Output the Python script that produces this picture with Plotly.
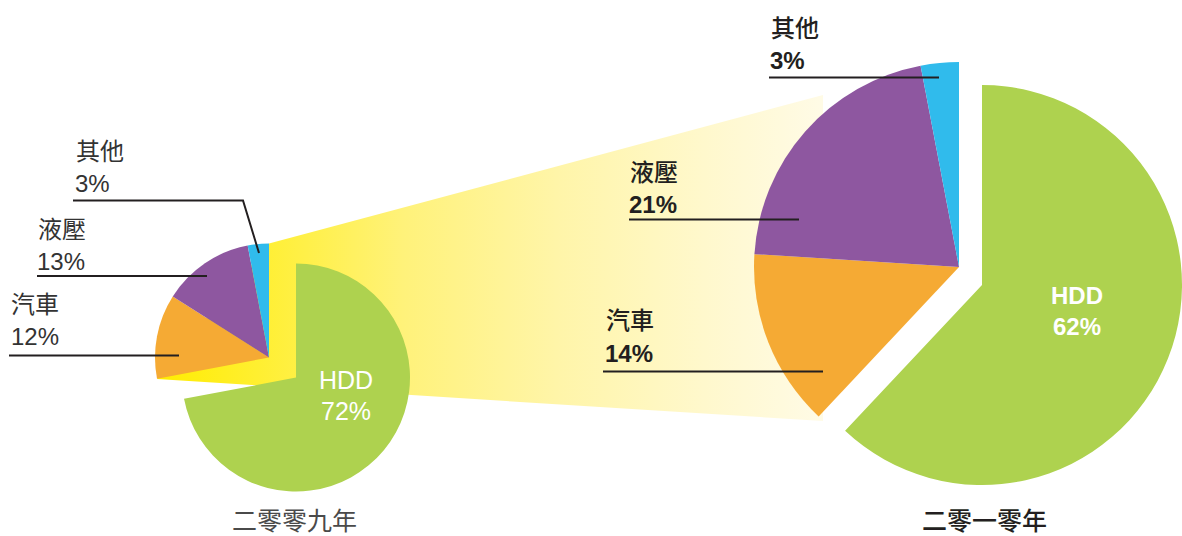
import plotly.graph_objects as go

W, H = 1182, 536

# ---- data ----
categories = ["HDD", "汽車", "液壓", "其他"]
share_2009 = [72, 12, 13, 3]
share_2010 = [62, 14, 21, 3]
year_labels = ["二零零九年", "二零一零年"]
colors = ["#AED24F", "#F5AA34", "#8E57A0", "#30BBEC"]

# ---- geometry (pixels) ----
L = dict(cx=269, cy=357.5, r=114)          # 2009 pie
R = dict(cx=959, cy=267, r=205)            # 2010 pie
L_HDD = dict(cx=296, cy=377.5, r=114)      # exploded HDD slice 2009
R_HDD = dict(cx=982, cy=285, r=200)        # exploded HDD slice 2010

FONT = "Liberation Sans, Noto Sans CJK TC, sans-serif"
DARK = "#231F20"

fig = go.Figure()

# funnel connecting the two pies (decoration)
fx = [L["cx"], 823, 823, 157]
fy = [L["cy"] - L["r"], 95, 421, 379]
fig.add_trace(go.Scatter(
    x=fx + [fx[0]], y=fy + [fy[0]], mode="lines", line=dict(width=0),
    fill="toself", hoverinfo="skip", showlegend=False,
    fillgradient=dict(type="horizontal", colorscale=[
        [0.0, "#FFEC00"], [0.15, "#FFEF30"], [0.37, "#FFF27A"],
        [0.6, "#FFF5A8"], [0.82, "#FFF8CC"], [1.0, "#FFFBE6"]]),
))


def add_pie(values, g, hdd_only):
    cols = []
    for i, c in enumerate(colors):
        show = (i == 0) if hdd_only else (i != 0)
        cols.append(c if show else "rgba(0,0,0,0)")
    x0 = max(0.0, (g["cx"] - g["r"]) / W)
    x1 = min(1.0, (g["cx"] + g["r"]) / W)
    y0 = max(0.0, (H - g["cy"] - g["r"]) / H)
    y1 = min(1.0, (H - g["cy"] + g["r"]) / H)
    fig.add_trace(go.Pie(
        labels=categories, values=values, sort=False, direction="clockwise",
        rotation=0, marker=dict(colors=cols, line=dict(width=0)),
        textinfo="none", hoverinfo="skip", showlegend=False,
        domain=dict(x=[x0, x1], y=[y0, y1]),
    ))


add_pie(share_2009, L, False)
add_pie(share_2009, L_HDD, True)
add_pie(share_2010, R, False)
add_pie(share_2010, R_HDD, True)

annotations = []


def txt(x, y, s, size=24, color=DARK, weight="normal", anchor="left"):
    annotations.append(dict(
        x=x, y=y, xref="x", yref="y", text=s, showarrow=False,
        xanchor=anchor, yanchor="middle",
        font=dict(family=FONT, size=size, color=color, weight=weight),
    ))


# 2009 labels (regular)
LC = "#333333"
txt(74, 151, categories[3], color=LC)
txt(73, 183, f"{share_2009[3]}%", color=LC)
txt(36, 229, categories[2], color=LC)
txt(35, 261, f"{share_2009[2]}%", color=LC)
txt(9, 304, categories[1], color=LC)
txt(9, 336, f"{share_2009[1]}%", color=LC)
txt(346, 380, categories[0], size=25, color="white", anchor="center")
txt(346, 411, f"{share_2009[0]}%", size=25, color="white", anchor="center")
txt(294, 521, year_labels[0], size=25, color="#4A4A4A", anchor="center")

# 2010 labels (bold percentages)
txt(769, 28, categories[3], weight=500)
txt(768, 60, f"{share_2010[3]}%", weight="bold")
txt(628, 172, categories[2], weight=500)
txt(627, 204, f"{share_2010[2]}%", weight="bold")
txt(604, 320, categories[1], weight=500)
txt(603, 353, f"{share_2010[1]}%", weight="bold")
txt(1077, 295, categories[0], size=24, color="white", weight="bold", anchor="center")
txt(1077, 326, f"{share_2010[0]}%", size=24, color="white", weight="bold", anchor="center")
txt(984, 521, year_labels[1], size=25, weight=500, anchor="center")

# leader lines
LW = 2
shapes = [
    dict(type="path", path="M 73 200.5 L 243 200.5 L 259 253", line=dict(color=DARK, width=LW)),
    dict(type="line", x0=37, y0=276, x1=207, y1=276, line=dict(color=DARK, width=LW)),
    dict(type="line", x0=9, y0=355.5, x1=179, y1=355.5, line=dict(color=DARK, width=LW)),
    dict(type="line", x0=769, y0=77.5, x1=939, y1=77.5, line=dict(color=DARK, width=LW)),
    dict(type="line", x0=629, y0=219.5, x1=799, y1=219.5, line=dict(color=DARK, width=LW)),
    dict(type="line", x0=603, y0=371.5, x1=823, y1=371.5, line=dict(color=DARK, width=LW)),
]
for s in shapes:
    s.update(xref="x", yref="y", layer="above")

fig.update_layout(
    width=W, height=H, margin=dict(l=0, r=0, t=0, b=0),
    paper_bgcolor="white", plot_bgcolor="white",
    xaxis=dict(range=[0, W], visible=False, fixedrange=True, domain=[0, 1]),
    yaxis=dict(range=[H, 0], visible=False, fixedrange=True, domain=[0, 1]),
    annotations=annotations, shapes=shapes, showlegend=False,
)

fig.write_html(
    "out.html",
    config={"displayModeBar": False},
    post_script="document.body.style.margin='0';document.body.style.overflow='hidden';",
)
